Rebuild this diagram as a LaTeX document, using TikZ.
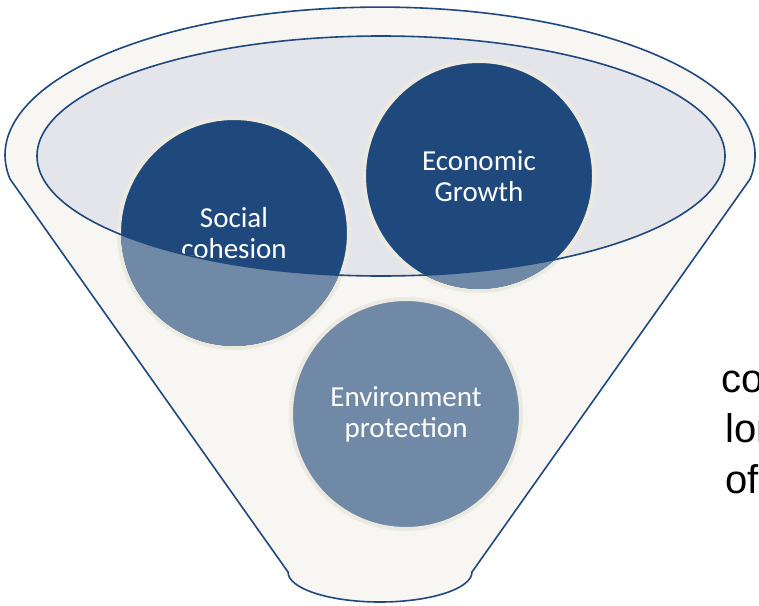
\documentclass[tikz,border=0pt]{standalone}
\usepackage{fontspec}
\setmainfont{Carlito}
\newfontfamily\arialfont{Liberation Sans}

\definecolor{funnelfill}{RGB}{247,246,242}
\definecolor{rimfill}{RGB}{227,229,234}
\definecolor{deepblue}{RGB}{31,73,125}
\definecolor{paleblue}{RGB}{111,137,166}
\definecolor{ringbeige}{RGB}{236,234,224}

\tikzset{
  bubble/.style={circle,draw=ringbeige,line width=4pt,minimum size=230pt,inner sep=0pt,
    text=white,align=center,font=\fontsize{29}{31}\selectfont},
  rim/.style={draw=deepblue,line width=1.6pt},
  sidetext/.style={anchor=base west,font=\arialfont\fontsize{40}{50}\selectfont},
}

\begin{document}
\begin{tikzpicture}[x=1pt,y=-1pt]
\useasboundingbox (0,0) rectangle (759,605);
\fill[white] (0,0) rectangle (759,605);

% funnel body
\draw[rim,fill=funnelfill] (10,179) arc[start angle=170.7,end angle=369.3,x radius=375,y radius=148]
  -- (472,572) arc[start angle=0,end angle=180,x radius=92,y radius=30] -- cycle;
\fill[rimfill] (381,156) ellipse[x radius=344,y radius=120];

\node[bubble,fill=deepblue](social) at (234,233) {Social\\cohesion};
\node[bubble,fill=deepblue](growth) at (479,176) {Economic\\Growth};
\node[bubble,fill=paleblue](environment) at (406,414) {Environment\\protection};

% lighter part of the circles below the rim
\foreach \c in {social,growth}{
  \begin{scope}
    \clip (\c.center) circle[radius=113];
    \fill[paleblue,even odd rule] (0,0) rectangle (759,605) (381,156) ellipse[x radius=344,y radius=120];
  \end{scope}
}
\draw[rim] (381,156) ellipse[x radius=344,y radius=120];

\node[sidetext](co) at (718,392) {co};
\node[sidetext](lon) at (722,442) {lon};
\node[sidetext](of) at (722,493) {of};

\end{tikzpicture}
\end{document}
